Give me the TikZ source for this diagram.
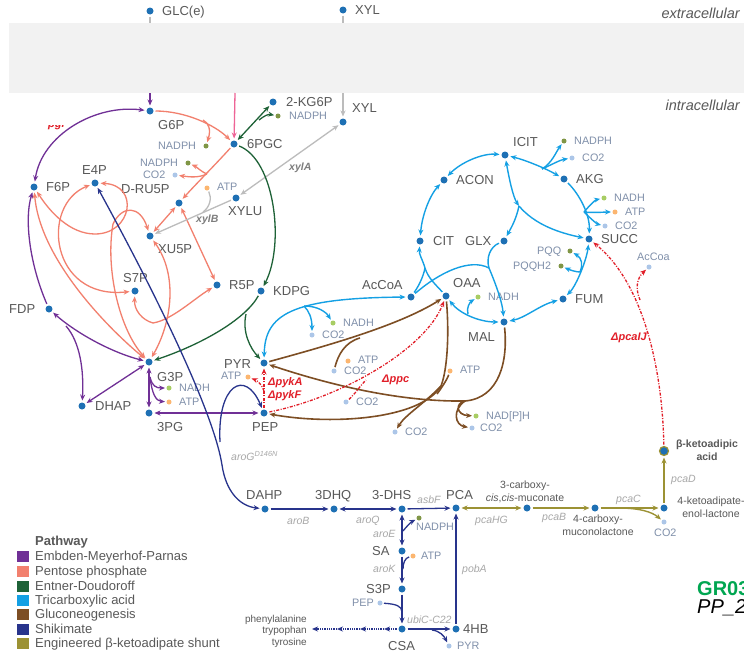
\documentclass[tikz,border=0pt]{standalone}
\usepackage{fontspec}
\setmainfont{Liberation Sans}
\usetikzlibrary{arrows.meta}
\definecolor{empc}{RGB}{112,48,150}
\definecolor{pppc}{RGB}{242,128,110}
\definecolor{edc}{RGB}{30,98,55}
\definecolor{tcac}{RGB}{20,160,228}
\definecolor{gngc}{RGB}{125,78,36}
\definecolor{shkc}{RGB}{40,52,140}
\definecolor{bkac}{RGB}{156,146,52}
\definecolor{metc}{RGB}{30,112,180}
\definecolor{txtc}{RGB}{89,89,89}
\definecolor{cofc}{RGB}{128,144,170}
\definecolor{genec}{RGB}{168,168,168}
\definecolor{xgenec}{RGB}{125,125,125}
\definecolor{redc}{RGB}{225,30,40}
\definecolor{nadphc}{RGB}{128,150,70}
\definecolor{nadhc}{RGB}{168,205,100}
\definecolor{atpc}{RGB}{252,182,112}
\definecolor{co2c}{RGB}{172,198,232}
\definecolor{pinkc}{RGB}{238,100,150}
\definecolor{bandc}{RGB}{242,242,242}
\definecolor{xylc}{RGB}{188,188,188}
\definecolor{grc}{RGB}{0,166,81}
\begin{document}
\begin{tikzpicture}[x=1pt,y=-1pt,>={Stealth[length=6pt,width=5pt]},
 met/.style={circle,fill=metc,minimum size=7pt,inner sep=0pt,outer sep=2pt},
 cof/.style={circle,minimum size=5pt,inner sep=0pt,outer sep=1.5pt},
 mlab/.style={font=\fontsize{13}{15}\selectfont,text=txtc,inner sep=0pt,text height=9.3pt,text depth=0pt,anchor=west},
 clab/.style={font=\fontsize{10.8}{12}\selectfont,text=cofc,inner sep=0pt,text height=7.7pt,text depth=0pt,anchor=west},
 glab/.style={font=\fontsize{10.5}{12}\selectfont\itshape,text=genec,inner sep=0pt,text height=7.5pt,text depth=0pt,anchor=west},
 xlab/.style={font=\fontsize{10.5}{12}\selectfont\bfseries\itshape,text=xgenec,inner sep=0pt,text height=7.5pt,text depth=0pt,anchor=west},
 rlab/.style={font=\fontsize{11}{12}\selectfont\bfseries\itshape,text=redc,inner sep=0pt,text height=7.9pt,text depth=0pt,anchor=west},
 slab/.style={font=\fontsize{10.5}{12.5}\selectfont,text=txtc,inner sep=0pt,align=center},
 emp/.style={draw=empc,line width=1.3pt},
 ppp/.style={draw=pppc,line width=1.3pt},
 edp/.style={draw=edc,line width=1.3pt},
 tca/.style={draw=tcac,line width=1.4pt},
 gng/.style={draw=gngc,line width=1.6pt},
 shk/.style={draw=shkc,line width=1.3pt},
 bka/.style={draw=bkac,line width=1.4pt},
 xyg/.style={draw=xylc,line width=1.3pt},
 pnk/.style={draw=pinkc,line width=1.3pt},
 redd/.style={draw=redc,line width=1.3pt,dash pattern=on 3pt off 1.5pt on 1pt off 1.5pt},
 lgbox/.style={minimum width=12pt,minimum height=11pt,inner sep=0pt},
 lgt/.style={font=\fontsize{13}{15}\selectfont,text=txtc,inner sep=0pt,text height=9.3pt,text depth=0pt,anchor=west}
]
\fill[white] (0,0) rectangle (744,653);
\useasboundingbox (0,0) rectangle (744,653);
\fill[bandc] (9,23) rectangle (744,93);

% ---------- metabolites
\node[met] (GLCe) at (150,11) {};
\node[met] (XYLe) at (343,10) {};
\node[met] (G6P) at (150,111) {};
\node[met] (KGSP) at (273,102) {};
\node[met] (XYLi) at (343,122) {};
\node[met] (PGC) at (234,144) {};
\node[met] (XYLU) at (236,198) {};
\node[met] (DRU) at (179,203) {};
\node[met] (E4P) at (95,183) {};
\node[met] (F6P) at (34,187) {};
\node[met] (XU5P) at (150,236) {};
\node[met] (S7P) at (135,291) {};
\node[met] (R5P) at (217,285) {};
\node[met] (KDPG) at (261,291) {};
\node[met] (FDP) at (49,309) {};
\node[met] (G3P) at (149,362) {};
\node[met] (DHAP) at (82,406) {};
\node[met] (TPG) at (149,413) {};
\node[met] (PYR) at (264,363) {};
\node[met] (PEP) at (264,413) {};
\node[met] (ACCOA) at (411,297) {};
\node[met] (OAA) at (446,296) {};
\node[met] (MAL) at (504,322) {};
\node[met] (CIT) at (420,241) {};
\node[met] (GLX) at (504,241) {};
\node[met] (ACON) at (444,180) {};
\node[met] (ICIT) at (505,155) {};
\node[met] (AKG) at (564,179) {};
\node[met] (SUCC) at (589,239) {};
\node[met] (FUM) at (563,299) {};
\node[met] (DAHP) at (265,509) {};
\node[met] (DHQ) at (334,509) {};
\node[met] (DHS) at (402,509) {};
\node[met] (PCA) at (456,508) {};
\node[met] (SA) at (402,551) {};
\node[met] (SSP) at (402,589) {};
\node[met] (CSA) at (402,629) {};
\node[met] (FHB) at (456,629) {};
\node[met] (CCM) at (527,508) {};
\node[met] (CML) at (595,508) {};
\node[met] (KEL) at (664,508) {};
\node[met,draw=bkac,line width=1.2pt,minimum size=9pt] (BKA) at (664,451) {};

% ---------- cofactors
\node[cof,fill=nadphc] (nA) at (278,116) {};
\node[cof,fill=nadphc] (nB) at (206,146) {};
\node[cof,fill=nadphc] (nC) at (188,163) {};
\node[cof,fill=co2c] (cA) at (175,175) {};
\node[cof,fill=atpc] (aA) at (207,188) {};
\node[cof,fill=nadhc] (nD) at (169,388) {};
\node[cof,fill=atpc] (aB) at (169,402) {};
\node[cof,fill=atpc] (aC) at (248,377) {};
\node[cof,fill=nadhc] (nE) at (333,323) {};
\node[cof,fill=co2c] (cB) at (312,335) {};
\node[cof,fill=atpc] (aD) at (348,361) {};
\node[cof,fill=co2c] (cC) at (334,371) {};
\node[cof,fill=co2c] (cD) at (346,402) {};
\node[cof,fill=atpc] (aE) at (450,371) {};
\node[cof,fill=co2c] (cE) at (395,432) {};
\node[cof,fill=nadhc] (nF) at (476,416) {};
\node[cof,fill=co2c] (cF) at (472,428) {};
\node[cof,fill=nadhc] (nG) at (478,297) {};
\node[cof,fill=nadphc] (nH) at (564,141) {};
\node[cof,fill=co2c] (cG) at (572,158) {};
\node[cof,fill=nadhc] (nI) at (604,198) {};
\node[cof,fill=atpc] (aF) at (615,212) {};
\node[cof,fill=co2c] (cH) at (605,226) {};
\node[cof,fill=nadphc] (pA) at (570,251) {};
\node[cof,fill=nadphc] (pB) at (561,266) {};
\node[cof,fill=co2c] (acA) at (649,267) {};
\node[cof,fill=nadphc] (nJ) at (419,518) {};
\node[cof,fill=atpc] (aG) at (413,556) {};
\node[cof,fill=co2c] (pepB) at (380,603) {};
\node[cof,fill=co2c] (pyrB) at (449,646) {};
\node[cof,fill=co2c] (cI) at (664,522) {};

% ---------- metabolite labels
\node[mlab] (tGLC) at (162,11) {GLC(e)};
\node[mlab] (tXYLe) at (355,10) {XYL};
\node[mlab] (tKG) at (286,102) {2-KG6P};
\node[mlab] (tXYLi) at (352,108) {XYL};
\node[mlab] (tG6P) at (158,125) {G6P};
\node[mlab] (tPGC) at (247,144) {6PGC};
\node[mlab] (tXYLU) at (228,211) {XYLU};
\node[mlab] (tDRU) at (121,189) {D-RU5P};
\node[mlab] (tE4P) at (82,170) {E4P};
\node[mlab] (tF6P) at (46,187) {F6P};
\node[mlab] (tXU5P) at (158,249) {XU5P};
\node[mlab] (tS7P) at (123,278) {S7P};
\node[mlab] (tR5P) at (229,285) {R5P};
\node[mlab] (tKDPG) at (273,291) {KDPG};
\node[mlab] (tFDP) at (9,309) {FDP};
\node[mlab] (tG3P) at (157,377) {G3P};
\node[mlab] (tDHAP) at (95,406) {DHAP};
\node[mlab] (tTPG) at (157,427) {3PG};
\node[mlab] (tPYR) at (224,364) {PYR};
\node[mlab] (tPEP) at (252,427) {PEP};
\node[mlab] (tACCOA) at (362,285) {AcCoA};
\node[mlab] (tOAA) at (453,283) {OAA};
\node[mlab] (tMAL) at (468,337) {MAL};
\node[mlab] (tCIT) at (433,241) {CIT};
\node[mlab] (tGLX) at (465,241) {GLX};
\node[mlab] (tACON) at (456,180) {ACON};
\node[mlab] (tICIT) at (513,142) {ICIT};
\node[mlab] (tAKG) at (576,179) {AKG};
\node[mlab] (tSUCC) at (601,239) {SUCC};
\node[mlab] (tFUM) at (575,299) {FUM};
\node[mlab] (tDAHP) at (246,495) {DAHP};
\node[mlab] (tDHQ) at (315,495) {3DHQ};
\node[mlab] (tDHS) at (372,495) {3-DHS};
\node[mlab] (tPCA) at (446,495) {PCA};
\node[mlab] (tSA) at (372,551) {SA};
\node[mlab] (tSSP) at (366,589) {S3P};
\node[mlab] (tCSA) at (388,646) {CSA};
\node[mlab] (tFHB) at (463,629) {4HB};

% ---------- cofactor labels
\node[clab] (lnA) at (289,116) {NADPH};
\node[clab] (lnB) at (158,146) {NADPH};
\node[clab] (lnC) at (140,163) {NADPH};
\node[clab] (lcA) at (143,175) {CO2};
\node[clab] (laA) at (217,187) {ATP};
\node[clab] (lnD) at (179,388) {NADH};
\node[clab] (laB) at (179,402) {ATP};
\node[clab] (laC) at (221,376) {ATP};
\node[clab] (lnE) at (343,323) {NADH};
\node[clab] (lcB) at (322,335) {CO2};
\node[clab] (laD) at (358,360) {ATP};
\node[clab] (lcC) at (344,371) {CO2};
\node[clab] (lcD) at (356,402) {CO2};
\node[clab] (laE) at (460,370) {ATP};
\node[clab] (lcE) at (405,432) {CO2};
\node[clab] (lnF) at (486,416) {NAD[P]H};
\node[clab] (lcF) at (480,428) {CO2};
\node[clab] (lnG) at (488,297) {NADH};
\node[clab] (lnH) at (574,141) {NADPH};
\node[clab] (lcG) at (582,158) {CO2};
\node[clab] (lnI) at (614,198) {NADH};
\node[clab] (laF) at (625,212) {ATP};
\node[clab] (lcH) at (615,226) {CO2};
\node[clab] (lpA) at (537,251) {PQQ};
\node[clab] (lpB) at (513,266) {PQQH2};
\node[clab] (lacA) at (637,257) {AcCoa};
\node[clab] (lnJ) at (416,527) {NADPH};
\node[clab] (laG) at (421,556) {ATP};
\node[clab] (lpepB) at (352,603) {PEP};
\node[clab] (lpyrB) at (457,646) {PYR};
\node[clab] (lcI) at (654,533) {CO2};

% ---------- gene labels
\node[xlab] (gxa) at (289,167) {xylA};
\node[xlab] (gxb) at (196,219) {xylB};
\node[glab] (gaG) at (231,457) {aroG\textsuperscript{D146N}};
\node[glab] (gaB) at (287,521) {aroB};
\node[glab] (gaQ) at (356,520) {aroQ};
\node[glab] (gasb) at (417,500) {asbF};
\node[glab] (gaE) at (373,534) {aroE};
\node[glab] (gaK) at (373,569) {aroK};
\node[glab] (gpob) at (462,569) {pobA};
\node[glab] (gubi) at (407,620) {ubiC-C22};
\node[glab] (gHG) at (475,520) {pcaHG};
\node[glab] (gB) at (542,517) {pcaB};
\node[glab] (gC) at (616,499) {pcaC};
\node[glab] (gD) at (671,479) {pcaD};
\node[rlab] (rA) at (268,382) {ΔpykA};
\node[rlab] (rF) at (268,395) {ΔpykF};
\node[rlab] (rP) at (382,379) {Δppc};
\node[rlab] (rIJ) at (611,337) {ΔpcaIJ};
\begin{scope}
\clip (36,125) rectangle (90,133);
\node[rlab] (rPG) at (40,124) {\textendash\,pgi\,\textendash};
\end{scope}

% ---------- other texts
\node[font=\fontsize{14.5}{16}\selectfont\itshape,text=txtc,inner sep=0pt,anchor=east] (tex) at (740,13) {extracellular};
\node[font=\fontsize{14.5}{16}\selectfont\itshape,text=txtc,inner sep=0pt,anchor=east] (tin) at (740,105) {intracellular};
\node[slab] (tCCM) at (525,492) {3-carboxy-\\\textit{cis},\textit{cis}-muconate};
\node[slab] (tCML) at (598,525) {4-carboxy-\\muconolactone};
\node[slab] (tKEL) at (711,507) {4-ketoadipate-\\enol-lactone};
\node[slab,font=\fontsize{10.5}{13}\selectfont\bfseries] (tBKA) at (707,450) {β-ketoadipic\\acid};
\node[font=\fontsize{10}{11.5}\selectfont,text=txtc,inner sep=0pt,align=right,anchor=east] (aaout) at (307,631) {phenylalanine\\trypophan\\tyrosine};
\node[font=\fontsize{20}{22}\selectfont\bfseries,text=grc,inner sep=0pt,text height=14pt,text depth=0pt,anchor=west] (gr) at (697,588) {GR03};
\node[font=\fontsize{20}{22}\selectfont\itshape,text=black,inner sep=0pt,text height=14pt,text depth=0pt,anchor=west] (pp) at (697,606) {PP\_2};

% ---------- legend
\node[lgt,font=\fontsize{13}{15}\selectfont\bfseries] (lgh) at (35,541) {Pathway};
\node[lgbox,fill=empc] (lg1) at (23,556) {};
\node[lgbox,fill=pppc] (lg2) at (23,571) {};
\node[lgbox,fill=edc] (lg3) at (23,586) {};
\node[lgbox,fill=tcac] (lg4) at (23,600) {};
\node[lgbox,fill=gngc] (lg5) at (23,614) {};
\node[lgbox,fill=shkc] (lg6) at (23,629) {};
\node[lgbox,fill=bkac] (lg7) at (23,643) {};
\node[lgt] (lt1) at (35,556) {Embden-Meyerhof-Parnas};
\node[lgt] (lt2) at (35,571) {Pentose phosphate};
\node[lgt] (lt3) at (35,586) {Entner-Doudoroff};
\node[lgt] (lt4) at (35,600) {Tricarboxylic acid};
\node[lgt] (lt5) at (35,614) {Gluconeogenesis};
\node[lgt] (lt6) at (35,629) {Shikimate};
\node[lgt] (lt7) at (35,643) {Engineered β-ketoadipate shunt};

% ---------- coordinates
\coordinate (bG1) at (150,23); \coordinate (bG2) at (150,93);
\coordinate (bX1) at (343,23); \coordinate (bX2) at (343,93);
\coordinate (bP) at (235,93);
\coordinate (fdpbr) at (66,326);
\coordinate (g3pbr) at (150,377);
\coordinate (g6pbr) at (203,120);
\coordinate (pgcbr) at (207,174);
\coordinate (xbbr) at (203,212);
\coordinate (tkmid) at (95,234);
\coordinate (tkbr) at (113,224);
\coordinate (tk1) at (153,323);
\coordinate (kgbr) at (259,120);
\coordinate (edbr) at (246,314);
\coordinate (pdhbr) at (304,306);
\coordinate (citj) at (425,268);
\coordinate (msj) at (489,268);
\coordinate (idhbr) at (542,169);
\coordinate (akgbr) at (584,212);
\coordinate (iclj) at (519,206);
\coordinate (sdhbr) at (580,272);
\coordinate (mdhbr) at (468,314);
\coordinate (pycj) at (360,338);
\coordinate (pckj) at (441,386);
\coordinate (pckj2) at (437,394);
\coordinate (maej) at (465,401);
\coordinate (pykbr) at (264,391);
\coordinate (ppcj) at (366,380);
\coordinate (pcabr) at (640,300);
\coordinate (shkm) at (222,465);
\coordinate (shkp) at (220,442);
\coordinate (aroEb) at (403,531);
\coordinate (aroKb) at (403,569);
\coordinate (ubib) at (402,612);
\coordinate (ubiCb) at (432,630);
\coordinate (d1) at (384,629); \coordinate (d2) at (360,629);
\coordinate (d3) at (337,629); \coordinate (d4) at (312,629);
\coordinate (pcacb) at (618,508);

% ---------- transport
\draw[xyg] (GLCe) -- (bG1);
\draw[xyg] (XYLe) -- (bX1);
\draw[emp,->] (bG2) -- (G6P);
\draw[pnk,->] (bP) -- (PGC);
\draw[xyg,->] (bX2) -- (XYLi);

% ---------- EMP
\draw[emp,<->] (G6P) .. controls (95,104) and (42,135) .. (F6P);
\draw[emp,->] (FDP) .. controls (30,265) and (24,220) .. (F6P);
\draw[emp,<->] (FDP) .. controls (75,332) and (110,352) .. (G3P);
\draw[emp,->] (fdpbr) .. controls (80,342) and (84,370) .. (DHAP);
\draw[emp,<->] (DHAP) -- (G3P);
\draw[emp,<->] (G3P) -- (TPG);
\draw[emp,->] (g3pbr) .. controls (152,386) and (156,388) .. (nD);
\draw[emp,->] (g3pbr) .. controls (152,394) and (156,401) .. (aB);
\draw[emp,<->] (TPG) -- (PEP);

% ---------- pentose phosphate
\draw[ppp,->] (G6P) .. controls (185,111) and (215,125) .. (PGC);
\draw[ppp,->] (g6pbr) .. controls (209,123) and (211,130) .. (nB);
\draw[ppp,->] (PGC) .. controls (215,165) and (195,185) .. (DRU);
\draw[ppp,->] (pgcbr) .. controls (200,171) and (197,167) .. (nC);
\draw[ppp,->] (pgcbr) .. controls (198,178) and (190,177) .. (cA);
\draw[ppp,<->] (DRU) -- (XU5P);
\draw[ppp,<->] (DRU) -- (R5P);
\draw[ppp,<->] (E4P) .. controls (140,185) and (132,234) .. (tkmid) .. controls (70,234) and (50,212) .. (F6P);
\draw[ppp,->] (tkbr) .. controls (122,205) and (140,205) .. (XU5P);
\draw[ppp,<->] (E4P) .. controls (40,205) and (50,300) .. (S7P);
\draw[ppp,<->] (F6P) .. controls (40,260) and (110,330) .. (G3P);
\draw[ppp,->] (tkbr) .. controls (105,270) and (120,330) .. (G3P);
\draw[ppp,<->] (XU5P) .. controls (178,275) and (172,322) .. (G3P);
\draw[ppp,->] (tk1) .. controls (142,320) and (134,310) .. (S7P);
\draw[ppp,->] (tk1) .. controls (172,320) and (195,298) .. (R5P);

% ---------- xylose
\draw[xyg,<->] (XYLi) -- (XYLU);
\draw[xyg,->] (XYLU) -- (XU5P);
\draw[xyg] (aA) .. controls (212,198) and (210,207) .. (xbbr);

% ---------- Entner-Doudoroff
\draw[edp,->] (PGC) .. controls (275,160) and (285,245) .. (KDPG);
\draw[edp,<->] (PGC) -- (KGSP);
\draw[edp,->] (kgbr) .. controls (264,116) and (268,114) .. (nA);
\draw[edp,->] (KDPG) .. controls (245,320) and (200,345) .. (G3P);
\draw[edp,->] (edbr) .. controls (242,332) and (250,348) .. (PYR);

% ---------- TCA
\draw[tca,<->] (PYR) .. controls (265,315) and (290,298) .. (ACCOA);
\draw[tca,->] (pdhbr) .. controls (309,311) and (312,318) .. (cB);
\draw[tca,->] (pdhbr) .. controls (318,306) and (326,312) .. (nE);
\draw[tca] (ACCOA) .. controls (418,287) and (423,278) .. (citj);
\draw[tca] (OAA) .. controls (436,285) and (428,278) .. (citj);
\draw[tca,->] (citj) .. controls (422,258) and (419,255) .. (CIT);
\draw[tca] (ACCOA) .. controls (440,272) and (470,258) .. (msj);
\draw[tca] (GLX) .. controls (490,247) and (486,258) .. (msj);
\draw[tca,->] (msj) .. controls (494,280) and (502,300) .. (MAL);
\draw[tca,<->] (CIT) .. controls (422,215) and (430,195) .. (ACON);
\draw[tca,<->] (ACON) .. controls (460,163) and (482,153) .. (ICIT);
\draw[tca,<->] (ICIT) .. controls (525,160) and (545,168) .. (AKG);
\draw[tca,->] (idhbr) .. controls (552,163) and (556,152) .. (nH);
\draw[tca,->] (idhbr) .. controls (555,163) and (560,160) .. (cG);
\draw[tca,->] (AKG) .. controls (580,195) and (590,215) .. (SUCC);
\draw[tca,->] (akgbr) .. controls (590,205) and (595,200) .. (nI);
\draw[tca,->] (akgbr) .. controls (595,213) and (605,212) .. (aF);
\draw[tca,->] (akgbr) .. controls (591,219) and (597,224) .. (cH);
\draw[tca,<->] (ICIT) .. controls (509,178) and (513,197) .. (iclj);
\draw[tca,->] (iclj) .. controls (535,225) and (560,233) .. (SUCC);
\draw[tca,->] (iclj) .. controls (516,220) and (511,228) .. (GLX);
\draw[tca,<->] (SUCC) .. controls (587,258) and (577,285) .. (FUM);
\draw[tca,->] (sdhbr) .. controls (583,265) and (582,258) .. (pA);
\draw[tca,->] (sdhbr) .. controls (576,272) and (570,270) .. (pB);
\draw[tca,<->] (FUM) .. controls (540,305) and (525,318) .. (MAL);
\draw[tca,<->] (OAA) .. controls (460,314) and (480,322) .. (MAL);
\draw[tca,->] (mdhbr) .. controls (466,308) and (470,302) .. (nG);

% ---------- gluconeogenesis
\draw[gng,->] (PYR) .. controls (330,345) and (400,325) .. (OAA);
\draw[gng] (cC) .. controls (338,355) and (345,342) .. (pycj);
\draw[gng] (OAA) .. controls (449,330) and (448,368) .. (pckj);
\draw[gng,->] (pckj) .. controls (425,403) and (405,415) .. (cE);
\draw[gng,->] (pckj) .. controls (420,420) and (330,425) .. (PEP);
\draw[gng] (aE) .. controls (447,380) and (440,390) .. (pckj2);
\draw[gng] (MAL) .. controls (508,360) and (500,398) .. (maej);
\draw[gng,->] (maej) .. controls (455,403) and (456,415) .. (nF);
\draw[gng,->] (maej) .. controls (452,410) and (455,425) .. (cF);
\draw[gng,->] (maej) .. controls (400,402) and (330,385) .. (PYR);

% ---------- deleted reactions (red)
\draw[redd,->] (PEP) -- (PYR);
\draw[redd,->] (pykbr) .. controls (262,385) and (258,381) .. (aC);
\draw[redd,->] (PEP) .. controls (340,398) and (425,350) .. (OAA);
\draw[redd] (cD) .. controls (355,394) and (360,386) .. (ppcj);
\draw[redd,->] (BKA) .. controls (662,360) and (640,280) .. (SUCC);
\draw[redd,->] (pcabr) .. controls (635,288) and (637,278) .. (acA);

% ---------- shikimate
\draw[shk,<->] (E4P) .. controls (170,320) and (215,420) .. (shkm) .. controls (226,492) and (240,506) .. (DAHP);
\draw[shk,->] (shkp) .. controls (217,385) and (245,368) .. (PEP);
\draw[shk,->] (DAHP) -- (DHQ);
\draw[shk,<->] (DHQ) -- (DHS);
\draw[shk,->] (DHS) -- (PCA);
\draw[shk,<->] (DHS) -- (SA);
\draw[shk,->] (aroEb) .. controls (407,526) and (411,522) .. (nJ);
\draw[shk,->] (SA) -- (SSP);
\draw[shk] (aG) .. controls (405,558) and (403,563) .. (aroKb);
\draw[shk,->] (SSP) -- (CSA);
\draw[shk] (pepB) .. controls (396,604) and (402,606) .. (ubib);
\draw[shk,->] (CSA) -- (FHB);
\draw[shk,->] (ubiCb) .. controls (440,631) and (444,636) .. (pyrB);
\draw[shk,->] (FHB) -- (PCA);
\draw[shk,densely dotted,->] (CSA) -- (d1);
\draw[shk,densely dotted,->] (d1) -- (d2);
\draw[shk,densely dotted,->] (d2) -- (d3);
\draw[shk,densely dotted,->] (d3) -- (d4);

% ---------- beta-ketoadipate shunt
\draw[bka,<->] (PCA) -- (CCM);
\draw[bka,->] (CCM) -- (CML);
\draw[bka,->] (CML) -- (KEL);
\draw[bka,->] (pcacb) .. controls (640,508) and (652,512) .. (cI);
\draw[bka,->] (KEL) -- (BKA);
\end{tikzpicture}
\end{document}
